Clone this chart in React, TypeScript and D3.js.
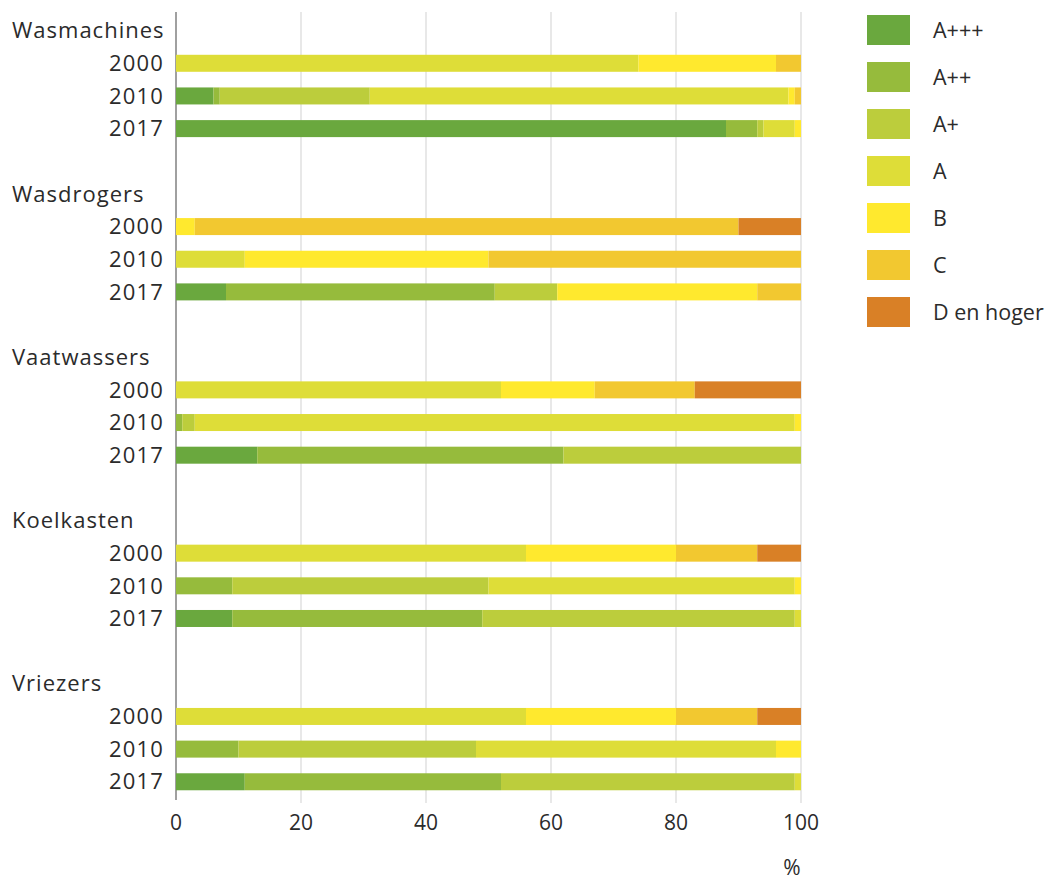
import React from "react";
import * as d3 from "d3";

// energy label shares (%) per appliance and year, in the order of rows below
const categories = ["Wasmachines", "Wasdrogers", "Vaatwassers", "Koelkasten", "Vriezers"];
const years = ["2000", "2010", "2017"];
const labels = ["A+++", "A++", "A+", "A", "B", "C", "D en hoger"];
const colors = ["#6aa83e", "#96bb3c", "#bccd3c", "#dedd38", "#ffe92e", "#f2c830", "#d98026"];

// one value per row: Wasmachines 2000/2010/2017, Wasdrogers 2000/2010/2017, ...
const aPlus3 = [0, 6, 88, 0, 0, 8, 0, 0, 13, 0, 0, 9, 0, 0, 11];
const aPlus2 = [0, 1, 5, 0, 0, 43, 0, 1, 49, 0, 9, 40, 0, 10, 41];
const aPlus1 = [0, 24, 1, 0, 0, 10, 0, 2, 38, 0, 41, 50, 0, 38, 47];
const aPlain = [74, 67, 5, 0, 11, 0, 52, 96, 0, 56, 49, 1, 56, 48, 1];
const bLabel = [22, 1, 1, 3, 39, 32, 15, 1, 0, 24, 1, 0, 24, 4, 0];
const cLabel = [4, 1, 0, 87, 50, 7, 16, 0, 0, 13, 0, 0, 13, 0, 0];
const dLabel = [0, 0, 0, 10, 0, 0, 17, 0, 0, 7, 0, 0, 7, 0, 0];

const xTicks = [0, 20, 40, 60, 80, 100];

const seriesValues = [aPlus3, aPlus2, aPlus1, aPlain, bLabel, cLabel, dLabel];

const width = 1055;
const height = 882;
const font = "'Open Sans', sans-serif";
const textColor = "#2b2b2b";

export default function App() {
  // rows: per category a title slot, three year slots and a blank slot
  const rows: { key: string; type: string; text: string; idx: number }[] = [];
  categories.forEach((c, ci) => {
    rows.push({ key: c + "-t", type: "title", text: c, idx: -1 });
    years.forEach((y, yi) => {
      rows.push({ key: c + "-" + y, type: "bar", text: y, idx: ci * years.length + yi });
    });
    if (ci < categories.length - 1) rows.push({ key: c + "-gap", type: "gap", text: "", idx: -1 });
  });

  const x = d3.scaleLinear().domain([0, 100]).range([176, 801]);
  const y = d3
    .scaleBand<string>()
    .domain(rows.map((r) => r.key))
    .range([14.3, 798.1])
    .padding(0);
  const barH = 17;

  const table = d3.range(categories.length * years.length).map((i) => {
    const o: Record<string, number> = {};
    labels.forEach((l, li) => (o[l] = seriesValues[li][i]));
    return o;
  });
  const stacked = d3.stack<Record<string, number>>().keys(labels)(table);
  const barRows = rows.filter((r) => r.type === "bar");

  const legendY = d3.scalePoint<string>().domain(labels).range([30, 312]);

  return (
    <div style={{ position: "absolute", left: 0, top: 0 }}>
      <svg width={width} height={height} style={{ display: "block", background: "#fff" }}>
        {/* gridlines */}
        {xTicks.map((t) => (
          <line
            key={"g" + t}
            x1={x(t)}
            x2={x(t)}
            y1={12}
            y2={t === 0 ? 800 : 803}
            stroke={t === 0 ? "#a0a0a0" : "#dcdcdc"}
            strokeWidth={t === 0 ? 2 : 1.3}
          />
        ))}

        {/* bars */}
        {stacked.map((s, si) => (
          <g key={labels[si]} fill={colors[si]}>
            {barRows.map((r) => {
              const d = s[r.idx];
              if (d[1] - d[0] <= 0) return null;
              return (
                <rect
                  key={r.key}
                  x={x(d[0])}
                  width={x(d[1]) - x(d[0])}
                  y={(y(r.key) as number) + y.bandwidth() / 2 - barH / 2}
                  height={barH}
                />
              );
            })}
          </g>
        ))}

        {/* row labels */}
        {rows
          .filter((r) => r.type !== "gap")
          .map((r) => (
            <text
              key={"l" + r.key}
              x={r.type === "title" ? 12 : 164}
              y={(y(r.key) as number) + y.bandwidth() / 2}
              dy="0.35em"
              textAnchor={r.type === "title" ? "start" : "end"}
              fontFamily={font}
              fontSize={r.type === "title" ? 22 : 22}
              letterSpacing={r.type === "title" ? 1 : 1.2}
              fill={textColor}
            >
              {r.text}
            </text>
          ))}

        {/* x tick labels */}
        {xTicks.map((t) => (
          <text
            key={"t" + t}
            x={x(t)}
            y={823}
            dy="0.35em"
            textAnchor="middle"
            fontFamily={font}
            fontSize={21}
            fill={textColor}
          >
            {t}
          </text>
        ))}
        <text x={792} y={868} dy="0.35em" textAnchor="middle" fontFamily={font} fontSize={21} fill={textColor}>
          %
        </text>

        {/* legend */}
        {labels.map((l, li) => (
          <g key={"lg" + l} transform={`translate(0,${legendY(l)})`}>
            <rect x={867} y={-15} width={43} height={30} fill={colors[li]} />
            <text x={933} y={0} dy="0.35em" fontFamily={font} fontSize={21.5} fill={textColor}>
              {l}
            </text>
          </g>
        ))}
      </svg>
    </div>
  );
}
